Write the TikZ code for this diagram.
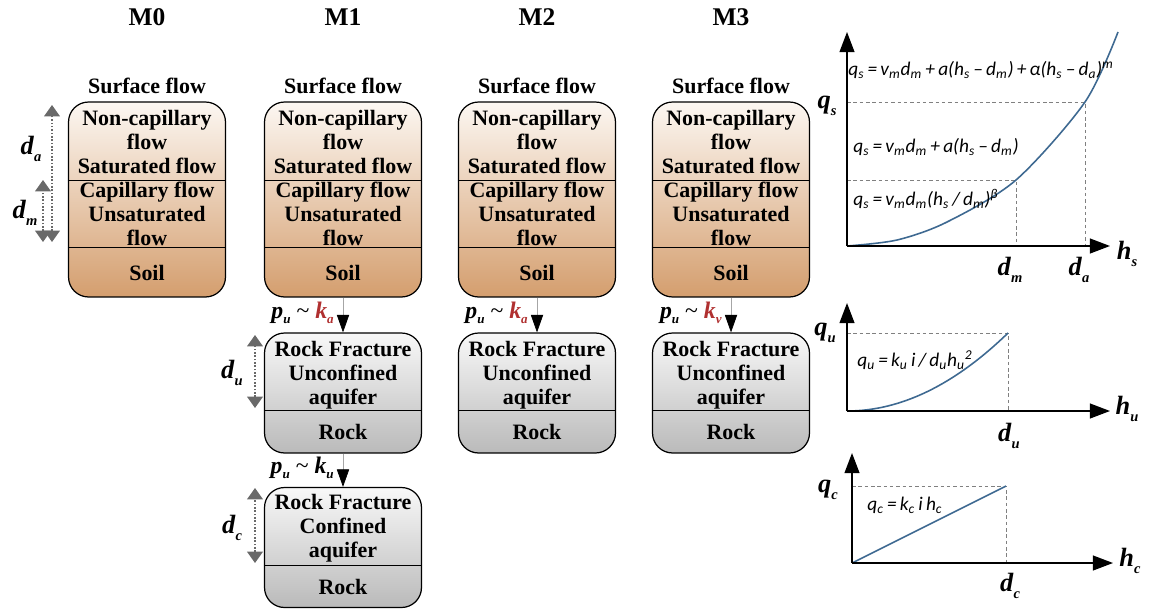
\documentclass[tikz,border=0pt]{standalone}
\usepackage{fontspec}
\setmainfont{Liberation Serif}
\newfontfamily\eqfont{Carlito}
\usetikzlibrary{arrows.meta}
\usetikzlibrary{positioning}

\definecolor{kred}{RGB}{176,48,48}
\definecolor{soiltop}{RGB}{252,247,242}
\definecolor{soilbot}{RGB}{212,158,110}
\definecolor{rocktop}{RGB}{248,248,248}
\definecolor{rockbot}{RGB}{186,186,186}
\definecolor{curveblue}{RGB}{62,105,145}
\definecolor{depthgray}{RGB}{105,105,105}

% bold italic symbol with a low subscript
\newcommand{\bvar}[2]{\textbf{\textit{#1}}\raisebox{-0.55ex}{\scalebox{0.55}{\textbf{\textit{#2}}}}}
\newcommand{\lo}[1]{\textsubscript{#1}}
\newcommand{\hi}[1]{\textsuperscript{#1}}

\begin{document}
\begin{tikzpicture}[x=0.02cm, y=-0.02cm,
	every node/.style={inner sep=0pt},
	title/.style={font=\fontsize{14.5}{16}\selectfont\bfseries},
	layer/.style={font=\fontsize{12.5}{13.6}\selectfont\bfseries, align=center},
	soilbox/.style={draw, line width=0.7pt, rounded corners=0.4cm, top color=soiltop, bottom color=soilbot, minimum width=3.14cm, minimum height=3.9cm},
	rockbox/.style={draw, line width=0.7pt, rounded corners=0.4cm, top color=rocktop, bottom color=rockbot, minimum width=3.14cm, minimum height=2.4cm},
	divider/.style={line width=0.5pt},
	flux/.style={draw=gray!70, line width=0.4pt, -{Triangle[length=10pt, width=7pt, color=black]}},
	depth/.style={depthgray, densely dotted, line width=0.9pt, {Triangle[length=6.5pt, width=9pt]}-{Triangle[length=6.5pt, width=9pt]}},
	axis/.style={line width=0.9pt, -{Triangle[length=11.5pt, width=8.5pt]}},
	guide/.style={gray, dash pattern=on 2pt off 1.6pt, line width=0.5pt},
	curve/.style={curveblue, line width=0.9pt},
	sym/.style={font=\fontsize{15}{15}\selectfont},
	flow/.style={font=\fontsize{13.5}{14}\selectfont},
	eq/.style={font=\fontsize{11}{12}\selectfont\eqfont\itshape, anchor=west}
]
	\useasboundingbox (0,0) rectangle (1149,612);

	% soil columns
	\foreach \i/\cx in {0/147, 1/343, 2/537, 3/731} {
		\node[title] (m\i) at (\cx, 17.5) {M\i};
		\node[layer] (surf\i) at (\cx, 86) {Surface flow};
		\node[soilbox] (soil\i) at (\cx, 199.5) {};
		\draw[divider] (soil\i.west |- 0,180) -- (soil\i.east |- 0,180);
		\draw[divider] (soil\i.west |- 0,247) -- (soil\i.east |- 0,247);
		\node[layer] (sat\i) at (\cx, 142) {Non-capillary\\flow\\Saturated flow};
		\node[layer] (cap\i) at (\cx, 214) {Capillary flow\\Unsaturated\\flow};
		\node[layer] (soiltxt\i) at (\cx, 273) {Soil};
	}

	% unconfined rock
	\foreach \i/\cx/\k in {1/343/a, 2/537/a, 3/731/v} {
		\node[rockbox] (rock\i) at (\cx, 393) {};
		\draw[divider] (rock\i.west |- 0,410) -- (rock\i.east |- 0,410);
		\node[layer] (frac\i) at (\cx, 375) {Rock Fracture\\Unconfined\\aquifer};
		\node[layer] (rocktxt\i) at (\cx, 432) {Rock};
		\draw[flux] (soil\i) -- (rock\i);
		\node[flow, anchor=base east] (pk\i) at (\cx-9, 318) {\bvar{p}{u} \textasciitilde{} \textcolor{kred}{\bvar{k}{\k}}};
	}

	% confined rock
	\node[rockbox] (conf1) at (343, 547.5) {};
	\draw[divider] (conf1.west |- 0,565) -- (conf1.east |- 0,565);
	\node[layer] (cfrac1) at (343, 528) {Rock Fracture\\Confined\\aquifer};
	\node[layer] (crock1) at (343, 587) {Rock};
	\draw[flux] (rock1) -- (conf1);
	\node[flow, anchor=base east] (pku) at (334, 473) {\bvar{p}{u} \textasciitilde{} \bvar{k}{u}};

	% depths
	\coordinate (datop) at (52,105);
	\coordinate (dabot) at (52,242);
	\coordinate (dmtop) at (43,180);
	\coordinate (dmbot) at (43,242);
	\draw[depth] (dabot) -- (datop);
	\draw[depth] (dmbot) -- (dmtop);
	\node[sym] (da) at (31,149) {\bvar{d}{a}};
	\node[sym] (dm) at (25,213) {\bvar{d}{m}};

	\coordinate (dutop) at (255,335);
	\coordinate (dubot) at (255,408);
	\coordinate (dctop) at (255,488);
	\coordinate (dcbot) at (255,563);
	\draw[depth] (dubot) -- (dutop);
	\draw[depth] (dcbot) -- (dctop);
	\node[sym] (du) at (232,373) {\bvar{d}{u}};
	\node[sym] (dc) at (232,528) {\bvar{d}{c}};

	% surface flow chart
	\coordinate (o1) at (847,246);
	\coordinate (y1) at (847,32);
	\coordinate (x1) at (1110,246);
	\draw[guide] (o1 |- 0,102) -- (1085,102) -- (1085,246);
	\draw[guide] (o1 |- 0,180) -- (1016,180) -- (1016,246);
	\draw[curve] plot[smooth] coordinates {(847,246) (897,240) (947,222) (1016,180) (1085,102) (1118,32)};
	\draw[axis] (o1) -- (y1);
	\draw[axis] (o1) -- (x1);
	\node[sym] (qs) at (827,106) {\bvar{q}{s}};
	\node[sym] (hs) at (1127,254) {\bvar{h}{s}};
	\node[sym] (dm1) at (1010,270) {\bvar{d}{m}};
	\node[sym] (da1) at (1079,270) {\bvar{d}{a}};
	\node[eq] (eqa) at (848,70) {q\lo{s}\,=\,v\lo{m}d\lo{m}\,+\,a(h\lo{s}\,–\,d\lo{m})\,+\,α(h\lo{s}\,–\,d\lo{a})\hi{m}};
	\node[eq] (eqb) at (853,147) {q\lo{s}\,=\,v\lo{m}d\lo{m}\,+\,a(h\lo{s}\,–\,d\lo{m})};
	\node[eq] (eqc) at (853,199) {q\lo{s}\,=\,v\lo{m}d\lo{m}(h\lo{s}\,/\,d\lo{m})\hi{β}};

	% unconfined chart
	\coordinate (o2) at (847,411);
	\coordinate (y2) at (847,303);
	\coordinate (x2) at (1110,411);
	\coordinate (e2) at (1008,333);
	\draw[guide] (o2 |- e2) -- (e2) -- (e2 |- o2);
	\draw[curve] (o2) .. controls (900.7,411) and (954.3,385) .. (e2);
	\draw[axis] (o2) -- (y2);
	\draw[axis] (o2) -- (x2);
	\node[sym] (qu) at (825,333) {\bvar{q}{u}};
	\node[sym] (hu) at (1127,409) {\bvar{h}{u}};
	\node[sym] (du1) at (1009,436) {\bvar{d}{u}};
	\node[eq] (eqd) at (857,360) {q\lo{u}\,=\,k\lo{u}\,i\,/\,d\lo{u}h\lo{u}\hi{2}};

	% confined chart
	\coordinate (o3) at (852,563);
	\coordinate (y3) at (852,453);
	\coordinate (x3) at (1113,563);
	\coordinate (e3) at (1006,486);
	\draw[guide] (o3 |- e3) -- (e3) -- (e3 |- o3);
	\draw[curve] (o3) -- (e3);
	\draw[axis] (o3) -- (y3);
	\draw[axis] (o3) -- (x3);
	\node[sym] (qc) at (828,490) {\bvar{q}{c}};
	\node[sym] (hc) at (1130,561) {\bvar{h}{c}};
	\node[sym] (dc1) at (1010,586) {\bvar{d}{c}};
	\node[eq] (eqe) at (867,505) {q\lo{c}\,=\,k\lo{c}\,i\,h\lo{c}};

\end{tikzpicture}
\end{document}
